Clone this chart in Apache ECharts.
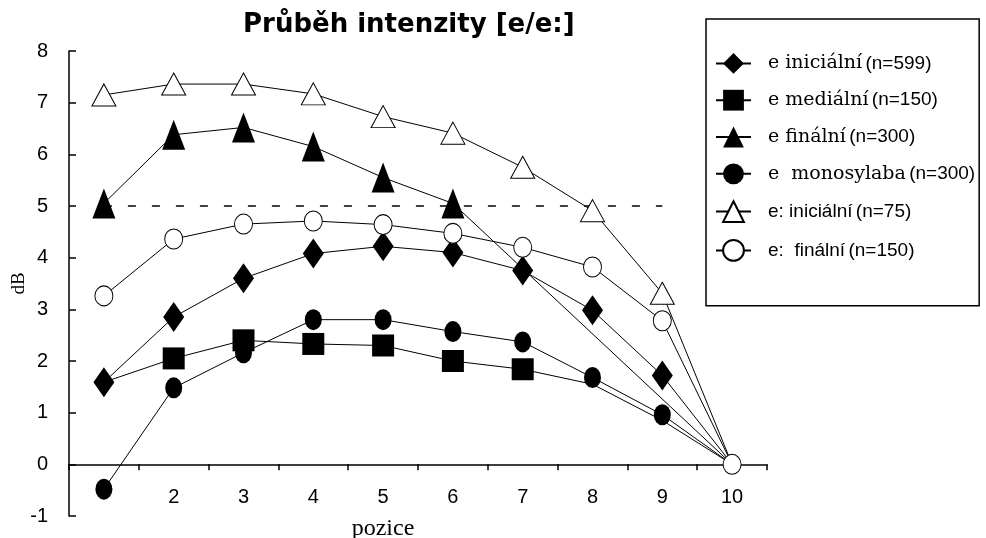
<!DOCTYPE html>
<html><head><meta charset="utf-8">
<script src="https://cdn.jsdelivr.net/npm/echarts@6/dist/echarts.min.js"></script>
<style>html,body{margin:0;padding:0;background:#fff}#c{width:986px;height:538px}</style>
</head><body><div id="c"></div>
<script>
// ---- data ----
const positions = ['1', '2', '3', '4', '5', '6', '7', '8', '9', '10'];
const xTickLabels = ['', '2', '3', '4', '5', '6', '7', '8', '9', '10'];
const yTickValues = [-1, 0, 1, 2, 3, 4, 5, 6, 7, 8];
const yTickLabels = ['-1', '0', '1', '2', '3', '4', '5', '6', '7', '8'];

const eInicialni  = [1.59, 2.85, 3.60, 4.08, 4.22, 4.10, 3.75, 2.98, 1.72, 0];
const eMedialni   = [1.59, 2.05, 2.40, 2.33, 2.30, 2.00, 1.84, 1.55, 0.85, 0];
const eFinalni    = [5.05, 6.38, 6.52, 6.15, 5.55, 5.05, null, null, null, 0];
const eMonosylaba = [-0.48, 1.48, 2.16, 2.80, 2.80, 2.57, 2.37, 1.68, 0.96, 0];
const eeInicialni = [7.15, 7.36, 7.36, 7.17, 6.73, 6.41, 5.75, 4.91, 3.31, 0];
const eeFinalni   = [3.26, 4.36, 4.65, 4.71, 4.64, 4.47, 4.20, 3.82, 2.78, 0];
const referenceLevel = 5;

const legendWords  = ['e iniciální', 'e mediální', 'e finální', 'e  monosylaba', 'e: iniciální', 'e:  finální'];
const legendCounts = ['(n=599)', '(n=150)', '(n=300)', '(n=300)', '(n=75)', '(n=150)'];

// ---- styles ----
const seriesValues = [eInicialni, eMedialni, eFinalni, eMonosylaba, eeInicialni, eeFinalni];
const styles = [
  { symbol: 'diamond',  size: [21, 30], fill: '#000', hide: [9], serif: true },
  { symbol: 'rect',     size: [22, 22], fill: '#000', hide: [0, 7, 8, 9], serif: true },
  { symbol: 'triangle', size: [23, 30], fill: '#000', hide: [9], serif: true },
  { symbol: 'circle',   size: [17, 21], fill: '#000', hide: [9], serif: true },
  { symbol: 'triangle', size: [24, 22], fill: '#fff', hide: [9], serif: false },
  { symbol: 'circle',   size: [18, 20], fill: '#fff', hide: [], serif: false }
];
const names = legendWords.map((w, i) => w + ' ' + legendCounts[i]);

const series = seriesValues.map((vals, i) => {
  const st = styles[i];
  return {
    name: names[i],
    type: 'line',
    data: vals.map((v, j) => st.hide.indexOf(j) >= 0 ? { value: v, symbol: 'none' } : v),
    connectNulls: true,
    showAllSymbol: true,
    symbol: st.symbol,
    symbolSize: st.size,
    lineStyle: { color: '#000', width: 1 },
    itemStyle: { color: st.fill, borderColor: '#000', borderWidth: st.fill === '#fff' ? 1 : 0 },
    emphasis: { disabled: true },
    animation: false,
    z: 2 + i
  };
});
series[0].markLine = {
  silent: true,
  symbol: 'none',
  label: { show: false },
  lineStyle: { color: '#000', type: [8, 16], width: 1.5 },
  data: [[{ coord: [positions[0], referenceLevel] }, { coord: [positions[8], referenceLevel] }]]
};

const chart = echarts.init(document.getElementById('c'), null, { renderer: 'canvas' });
chart.setOption({
  animation: false,
  backgroundColor: '#fff',
  title: {
    text: 'Průběh intenzity [e/e:]',
    left: 243, top: 12, padding: 0,
    textStyle: { fontFamily: 'DejaVu Sans', fontWeight: 'bold', fontSize: 26, color: '#000' }
  },
  grid: { left: 69, right: 219, top: 51, bottom: 22, containLabel: false, outerBoundsMode: 'none' },
  xAxis: {
    type: 'category',
    data: positions,
    boundaryGap: true,
    name: 'pozice',
    nameLocation: 'middle',
    nameGap: 1,
    nameMoveOverlap: false,
    nameTextStyle: { fontFamily: 'Liberation Serif', fontSize: 24, color: '#000', padding: [0, 70, 0, 0] },
    axisLine: { onZero: true, lineStyle: { color: '#000', width: 1.5 } },
    axisTick: { show: true, inside: false, length: 6, interval: 0, lineStyle: { color: '#000', width: 1.5 } },
    axisLabel: {
      interval: 0, margin: -29,
      fontFamily: 'Liberation Sans', fontSize: 20, color: '#000',
      formatter: (v, i) => xTickLabels[i]
    },
    splitLine: { show: false }
  },
  yAxis: {
    type: 'value',
    min: -1, max: 8, interval: 1,
    name: 'dB',
    nameLocation: 'middle',
    nameGap: 40,
    nameMoveOverlap: false,
    nameRotate: 90,
    nameTextStyle: { fontFamily: 'Liberation Serif', fontSize: 19, color: '#000' },
    axisLine: { show: true, onZero: false, lineStyle: { color: '#000', width: 1.5 } },
    axisTick: { show: true, inside: true, length: 7, lineStyle: { color: '#000', width: 1.5 } },
    axisLabel: {
      margin: 21, fontFamily: 'Liberation Sans', fontSize: 20, color: '#000',
      formatter: v => yTickLabels[yTickValues.indexOf(Math.round(v))]
    },
    splitLine: { show: false }
  },
  legend: {
    orient: 'vertical',
    left: 706, top: 19,
    padding: [34, 4, 44, 9],
    itemWidth: 35, itemHeight: 26, itemGap: 16,
    borderColor: '#000', borderWidth: 1.5,
    backgroundColor: '#fff',
    selectedMode: false,
    data: names,
    formatter: name => {
      const i = names.indexOf(name);
      const key = styles[i].serif ? 's' : 'n';
      return '{g| }{' + key + '|' + legendWords[i] + '} {n|' + legendCounts[i] + '}';
    },
    textStyle: {
      color: '#000',
      rich: {
        g: { width: 12 },
        s: { fontFamily: 'DejaVu Serif', fontSize: 19, color: '#000' },
        n: { fontFamily: 'Liberation Sans', fontSize: 19, color: '#000' }
      }
    }
  },
  series: series
});
</script>
</body></html>
